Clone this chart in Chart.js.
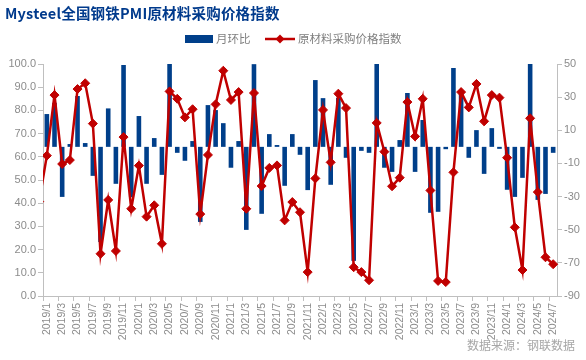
<!DOCTYPE html>
<html lang="zh-CN">
<head>
    <meta charset="UTF-8">
    <title>Mysteel全国钢铁PMI原材料采购价格指数</title>
    <script src="https://cdn.jsdelivr.net/npm/chart.js"></script>
    <style>
        html, body { margin: 0; padding: 0; background: #fff; }
        .wrap { position: relative; width: 586px; height: 360px; }
        .title {
            position: absolute; left: 5px; top: 2px;
            font: bold 14.5px "Noto Sans CJK SC", sans-serif;
            color: #003a8c; letter-spacing: 0.2px;
        }
        .source {
            position: absolute; right: 11px; top: 336px;
            font: 12px "Noto Sans CJK SC", sans-serif;
            color: #a6a6a6;
        }
    </style>
</head>
<body>
<div class="wrap">
    <canvas id="pmiChart" width="586" height="360"></canvas>
    <div class="title">Mysteel全国钢铁PMI原材料采购价格指数</div>
    <div class="source">数据来源：钢联数据</div>
</div>

<script>
    // 月份: 2018/12 只用于让折线从左边界延伸进来, 不显示
    const months = [];
    for (let y = 2018; y <= 2024; y++) {
        for (let m = 1; m <= 12; m++) {
            if ((y === 2018 && m < 12) || (y === 2024 && m > 7)) continue;
            months.push(y + '/' + m);
        }
    }

    // 原材料采购价格指数 (左轴)
    const priceIndex = [
        40.7,
        60.5, 86.6, 56.9, 58.6, 89.2, 91.7, 74.3, 18.2, 41.4, 19.4,
        68.5, 37.6, 56.2, 34.2, 39.1, 22.5, 88.2, 85.0, 77.0, 80.5,
        35.3, 60.8, 82.6, 97.1, 84.5, 87.9, 37.6, 87.5, 47.4, 55.2,
        56.3, 32.6, 40.5, 36.1, 10.3, 50.7, 80.2, 57.6, 87.2, 81.0,
        12.4, 10.3, 6.8, 74.6, 62.2, 47.3, 51.0, 83.6, 68.8, 85.0,
        45.5, 6.5, 6.0, 53.3, 87.9, 81.3, 91.4, 75.3, 86.6, 85.5,
        59.6, 29.6, 11.2, 76.6, 44.8, 16.7, 13.7
    ];

    // 月环比 (右轴)
    const momChange = [
        null,
        19.8, 26.6, -30.2, 1.7, 30.7, 2.3, -17.5, -57.4, 23.2, -22.3,
        49.4, -30.4, 18.6, -22.3, 5.3, -16.9, 65.7, -3.6, -8.4, 3.5,
        -45.3, 25.2, 22.2, 14.3, -12.6, 3.5, -50.1, 49.9, -40.4, 7.7,
        1.1, -23.5, 7.7, -4.8, -26.1, 40.3, 29.4, -22.9, 29.6, -6.6,
        -68.8, -2.4, -3.6, 67.8, -12.6, -15.1, 4.1, 32.5, -15.1, 16.2,
        -39.8, -39.2, -1.4, 47.6, 32.4, -6.6, 10.1, -16.3, 11.3, -1.2,
        -25.9, -30.2, -18.7, 65.4, -32.0, -28.4, -3.6
    ];

    const BLUE = '#003f8a';
    const RED = '#c00000';
    const AXIS = '#bfbfbf';
    const TICK_TEXT = '#8c8c8c';

    // 顶部图例
    const legendPlugin = {
        id: 'topLegend',
        afterDraw(chart) {
            const ctx = chart.ctx;
            ctx.save();
            ctx.fillStyle = BLUE;
            ctx.fillRect(185, 35, 28, 8);

            ctx.strokeStyle = RED;
            ctx.lineWidth = 2.5;
            ctx.beginPath();
            ctx.moveTo(265, 39);
            ctx.lineTo(295, 39);
            ctx.stroke();
            ctx.fillStyle = RED;
            ctx.beginPath();
            ctx.moveTo(280, 34.5);
            ctx.lineTo(284.5, 39);
            ctx.lineTo(280, 43.5);
            ctx.lineTo(275.5, 39);
            ctx.closePath();
            ctx.fill();

            ctx.fillStyle = '#7f7f7f';
            ctx.font = '11.5px "Noto Sans CJK SC", sans-serif';
            ctx.textBaseline = 'middle';
            ctx.fillText('月环比', 216, 39);
            ctx.fillText('原材料采购价格指数', 298, 39);
            ctx.restore();
        }
    };

    new Chart(document.getElementById('pmiChart'), {
        type: 'bar',
        data: {
            labels: months,
            datasets: [
                {
                    type: 'line',
                    label: '原材料采购价格指数',
                    data: priceIndex,
                    yAxisID: 'y',
                    order: 1,
                    borderColor: RED,
                    borderWidth: 2.5,
                    tension: 0,
                    pointStyle: 'rectRot',
                    pointRadius: 4.5,
                    pointBackgroundColor: RED,
                    pointBorderColor: RED,
                    pointBorderWidth: 1,
                    clip: { left: 0, top: 10, right: 10, bottom: 10 }
                },
                {
                    label: '月环比',
                    data: momChange,
                    yAxisID: 'y1',
                    order: 2,
                    backgroundColor: BLUE,
                    categoryPercentage: 1,
                    barPercentage: 0.6
                }
            ]
        },
        options: {
            responsive: false,
            animation: false,
            layout: { padding: { top: 64, left: 0, right: 0, bottom: 0 } },
            plugins: {
                legend: { display: false },
                title: { display: false },
                tooltip: { enabled: false }
            },
            scales: {
                x: {
                    min: '2019/1',
                    offset: true,
                    border: { color: AXIS },
                    grid: {
                        offset: true,
                        drawOnChartArea: false,
                        tickLength: 5,
                        tickColor: ctx => (ctx.index % 2 === 0 ? AXIS : 'rgba(0,0,0,0)')
                    },
                    ticks: {
                        autoSkip: false,
                        minRotation: 90,
                        maxRotation: 90,
                        padding: 2,
                        color: TICK_TEXT,
                        font: { family: '"Liberation Sans", Arial, sans-serif', size: 10.5 },
                        callback: function (val, idx) {
                            return idx % 2 === 0 ? this.getLabelForValue(val) : '';
                        }
                    },
                    afterFit: scale => { scale.height = 64; }
                },
                y: {
                    position: 'left',
                    min: 0,
                    max: 100,
                    border: { color: AXIS },
                    grid: { drawOnChartArea: false, tickLength: 5, tickColor: AXIS },
                    ticks: {
                        stepSize: 10,
                        padding: 2,
                        color: TICK_TEXT,
                        font: { family: '"Liberation Sans", Arial, sans-serif', size: 11 },
                        callback: v => v.toFixed(1)
                    },
                    afterFit: scale => { scale.width = 43; }
                },
                y1: {
                    position: 'right',
                    min: -90,
                    max: 50,
                    border: { color: AXIS },
                    grid: { drawOnChartArea: false, tickLength: 5, tickColor: AXIS },
                    ticks: {
                        stepSize: 20,
                        padding: 2,
                        color: TICK_TEXT,
                        font: { family: '"Liberation Sans", Arial, sans-serif', size: 11 }
                    },
                    afterFit: scale => { scale.width = 29; }
                }
            }
        },
        plugins: [legendPlugin]
    });
</script>
</body>
</html>
